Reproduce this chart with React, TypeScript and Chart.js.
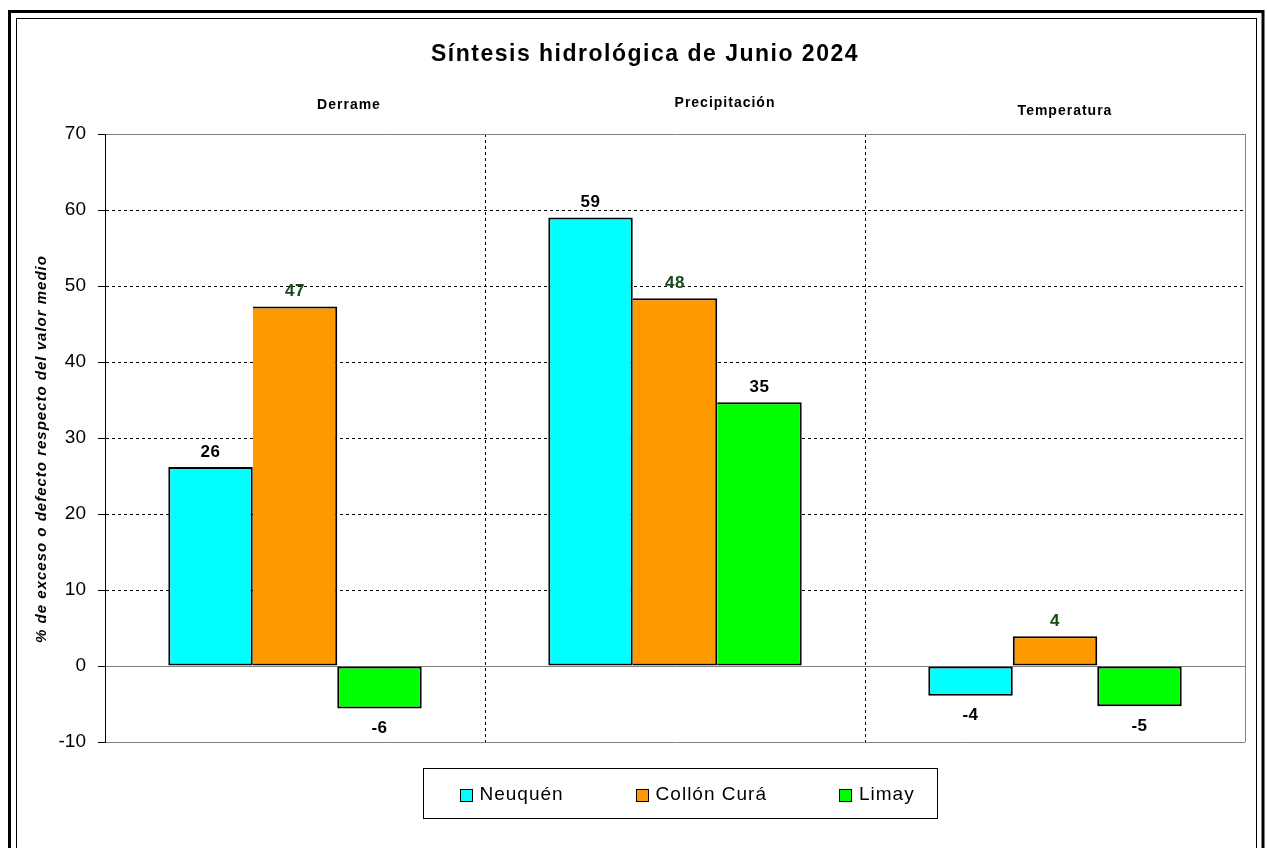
import React, { useEffect, useRef } from "react";
import { Chart, registerables } from "chart.js";

Chart.register(...registerables);

// ---- Data ----
const categories = ["Derrame", "Precipitación", "Temperatura"];
const seriesLabels = ["Neuquén", "Collón Curá", "Limay"];
const neuquenValues = [26.2, 59.0, -3.9];
const collonCuraValues = [47.3, 48.4, 3.9];
const limayValues = [-5.6, 34.7, -5.3];
const yMin = -10;
const yMax = 70;
const yStep = 10;
const chartTitle = "Síntesis hidrológica de Junio 2024";
const yAxisTitle = "% de exceso o defecto respecto del valor medio";

// ---- Styles / layout ----
const W = 1267;
const H = 848;
const FONT = "Arial, 'Liberation Sans', Helvetica, sans-serif";
const seriesColors = ["#00FFFF", "#FF9900", "#00FF00"];
const valueLabelColors = ["#000000", "#1A4A1A", "#000000"];
// label offsets (dx from category centre, dy from chart-area top)
const categoryLabelOffsets = [
  [54, -29],
  [50, -31],
  [10, -23],
];

const seriesData = [neuquenValues, collonCuraValues, limayValues];

const decorPlugin = {
  id: "decor",
  beforeDraw(chart: any) {
    const ctx = chart.ctx;
    ctx.save();
    ctx.fillStyle = "#ffffff";
    ctx.fillRect(0, 0, W, H);
    ctx.strokeStyle = "#000";
    ctx.lineWidth = 3;
    ctx.strokeRect(9.5, 11.5, 1263 - 9.5, H + 20);
    ctx.lineWidth = 1;
    ctx.strokeRect(16.5, 18.5, 1256.5 - 16.5, H + 20);
    ctx.restore();
  },
  afterDraw(chart: any) {
    const ctx = chart.ctx;
    const area = chart.chartArea;
    const xScale = chart.scales.x;
    ctx.save();
    const anyCtx = ctx as any;

    // Title
    anyCtx.letterSpacing = "1.5px";
    ctx.fillStyle = "#000";
    ctx.font = `bold 23px ${FONT}`;
    ctx.textAlign = "center";
    ctx.textBaseline = "middle";
    ctx.fillText(chartTitle, 645, 55);

    // Category labels above the plot
    anyCtx.letterSpacing = "1px";
    ctx.font = `bold 14px ${FONT}`;
    categories.forEach((c, i) => {
      const cx = xScale.getPixelForValue(i) + categoryLabelOffsets[i][0];
      const cy = area.top + categoryLabelOffsets[i][1];
      ctx.fillText(c, cx, cy);
    });

    // Y axis title
    ctx.save();
    ctx.translate(41.5, 449);
    ctx.rotate(-Math.PI / 2);
    ctx.font = `italic bold 15px ${FONT}`;
    anyCtx.letterSpacing = "1px";
    ctx.fillText(yAxisTitle, 0, 0);
    ctx.restore();

    // Value labels
    ctx.font = `bold 17px ${FONT}`;
    anyCtx.letterSpacing = "0.5px";
    chart.data.datasets.forEach((ds: any, i: number) => {
      const meta = chart.getDatasetMeta(i);
      meta.data.forEach((el: any, j: number) => {
        const v = ds.data[j];
        ctx.fillStyle = valueLabelColors[i];
        const y = v >= 0 ? el.y - 15 : el.y + 20;
        ctx.fillText(String(Math.round(v)), el.x, y);
      });
    });

    // Legend
    const boxW = 514;
    const boxH = 50;
    const boxCx = (area.left + area.right) / 2 + 5;
    const boxLeft = Math.round(boxCx - boxW / 2) + 0.5;
    const boxTop = Math.round(area.bottom + 26) + 0.5;
    ctx.strokeStyle = "#000";
    ctx.lineWidth = 1;
    ctx.strokeRect(boxLeft, boxTop, boxW, boxH);
    ctx.font = `19px ${FONT}`;
    anyCtx.letterSpacing = "1px";
    ctx.textAlign = "left";
    ctx.textBaseline = "middle";
    let x = boxLeft + 36;
    const cy = boxTop + boxH / 2;
    chart.data.datasets.forEach((ds: any) => {
      const sq = 13;
      ctx.fillStyle = ds.backgroundColor;
      ctx.fillRect(Math.round(x), Math.round(cy - sq / 2 + 2), sq, sq);
      ctx.strokeStyle = "#000";
      ctx.strokeRect(Math.round(x) + 0.5, Math.round(cy - sq / 2 + 2) + 0.5, sq - 1, sq - 1);
      ctx.fillStyle = "#000";
      const tx = x + sq + 7;
      ctx.fillText(ds.label, tx, cy + 1);
      const tw = ctx.measureText(ds.label).width;
      x = tx + tw + 72;
    });

    ctx.restore();
  },
};

export default function App() {
  const canvasRef = useRef<HTMLCanvasElement | null>(null);

  useEffect(() => {
    const canvas = canvasRef.current;
    if (!canvas) return;
    const chart = new Chart(canvas, {
      type: "bar",
      data: {
        labels: categories,
        datasets: seriesLabels.map((label, i) => ({
          label,
          data: seriesData[i],
          backgroundColor: seriesColors[i],
          borderColor: "#000000",
          borderWidth: 2,
          borderSkipped: (c: any) => {
            const di = c.datasetIndex;
            const j = c.dataIndex;
            if (di === undefined || j === undefined || di === 0) return false;
            const prev = seriesData[di - 1][j];
            const cur = seriesData[di][j];
            return prev * cur > 0 ? "left" : false;
          },
          categoryPercentage: 0.667,
          barPercentage: 1,
          inflateAmount: 0,
        })),
      },
      options: {
        animation: false,
        responsive: false,
        devicePixelRatio: 1,
        layout: { padding: { left: 20, right: 22, top: 134, bottom: 106 } },
        plugins: {
          legend: { display: false },
          title: { display: false },
          tooltip: { enabled: false },
        },
        scales: {
          x: {
            type: "category",
            position: "bottom",
            offset: true,
            ticks: { display: false },
            grid: {
              offset: true,
              drawTicks: false,
              lineWidth: 1,
              color: (c: any) =>
                c.index === 0 ? "rgba(0,0,0,0)" : c.index === undefined ? "#808080" : "#000000",
            },
            border: {
              display: false,
              dash: (c: any) => (c.index === 1 || c.index === 2 ? [3, 3] : []),
            },
            afterFit: (s: any) => {
              s.height = 0;
            },
          },
          y: {
            min: yMin,
            max: yMax,
            ticks: {
              stepSize: yStep,
              color: "#000000",
              font: { family: FONT, size: 19 },
              padding: 12,
            },
            grid: {
              lineWidth: 1,
              tickLength: 7,
              tickColor: "#000000",
              tickWidth: 1,
              color: (c: any) => {
                const v = c.tick ? c.tick.value : undefined;
                return v !== undefined && v > yMin && v < yMax && v !== 0 ? "#000000" : "#808080";
              },
            },
            border: {
              display: true,
              color: "#000000",
              width: 1,
              dash: (c: any) => {
                const v = c.tick ? c.tick.value : undefined;
                return v !== undefined && v > yMin && v < yMax && v !== 0 ? [3, 3] : [];
              },
            },
            afterFit: (s: any) => {
              s.width = 85;
            },
          },
        },
      },
      plugins: [decorPlugin],
    } as any);
    return () => chart.destroy();
  }, []);

  return (
    <div style={{ position: "absolute", left: 0, top: 0, width: W, height: H }}>
      <canvas ref={canvasRef} width={W} height={H} style={{ display: "block", width: W, height: H }} />
    </div>
  );
}
